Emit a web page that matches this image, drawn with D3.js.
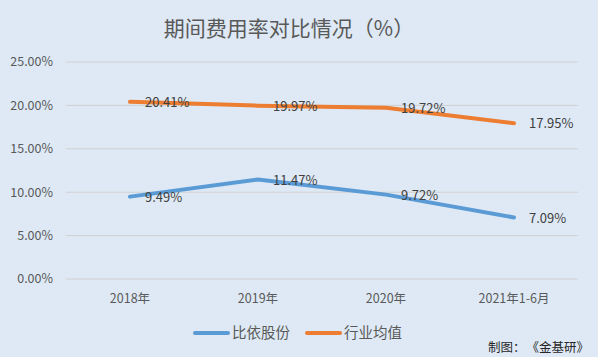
<!DOCTYPE html>
<html><head><meta charset="utf-8">
<script src="https://cdn.jsdelivr.net/npm/d3@7"></script>
<style>body{margin:0;background:#dee9f5;}svg{display:block;}</style>
</head><body><svg id="c" width="598" height="357"></svg>
<script>
const categories = ["2018年","2019年","2020年","2021年1-6月"];
const seriesNames = ["比依股份","行业均值"];
const biyi = [9.49, 11.47, 9.72, 7.09];
const industry = [20.41, 19.97, 19.72, 17.95];
const yTicks = [0,5,10,15,20,25];
const colors = ["#5b9bd5","#ed7d31"];
const title = "期间费用率对比情况（%）";
const noteParts = ["制图：", "《金基研》"];

const svg = d3.select("#c");
const W=598,H=357;
svg.append("rect").attr("width",W).attr("height",H).attr("fill","#dee9f5");
const font = "'Microsoft YaHei','Noto Sans CJK SC',sans-serif";
const x = d3.scaleBand().domain(categories).range([66,578]);
const y = d3.scaleLinear().domain([0,25]).range([279,62]);

svg.append("text").attr("x",289).attr("y",29).attr("dy","0.35em").attr("text-anchor","middle")
  .attr("font-family",font).attr("font-size",21).attr("fill","#595959").text(title);

const g = svg.append("g");
g.selectAll("line.grid").data(yTicks).join("line")
  .attr("x1",66).attr("x2",578).attr("y1",d=>y(d)).attr("y2",d=>y(d))
  .attr("stroke","#d0d0d0").attr("stroke-width",1);
g.selectAll("text.yl").data(yTicks).join("text")
  .attr("x",53).attr("y",d=>y(d)).attr("dy","0.35em").attr("text-anchor","end")
  .attr("font-family",font).attr("font-size",12.5).attr("fill","#595959")
  .text(d=>d.toFixed(2)+"%");
g.selectAll("text.xl").data(categories).join("text")
  .attr("x",d=>x(d)+x.bandwidth()/2).attr("y",299).attr("dy","0.35em").attr("text-anchor","middle")
  .attr("font-family",font).attr("font-size",12.5).attr("fill","#595959").text(d=>d);

const cx = d=>x(d)+x.bandwidth()/2;
const line = d3.line().x((d,i)=>cx(categories[i])).y(d=>y(d));
[biyi, industry].forEach((s,k)=>{
  svg.append("path").datum(s).attr("d",line).attr("fill","none")
    .attr("stroke",colors[k]).attr("stroke-width",4).attr("stroke-linecap","round").attr("stroke-linejoin","round");
});
[biyi, industry].forEach((s,k)=>{
  svg.selectAll(null).data(s).join("text")
    .attr("x",(d,i)=>cx(categories[i])+15).attr("y",d=>y(d)).attr("dy","0.4em")
    .attr("font-family",font).attr("font-size",13).attr("fill","#404040")
    .text(d=>d.toFixed(2)+"%");
});

const leg = svg.append("g");
const lx=[195,307];
seriesNames.forEach((n,k)=>{
  leg.append("line").attr("x1",lx[k]).attr("x2",lx[k]+33).attr("y1",333).attr("y2",333)
    .attr("stroke",colors[k]).attr("stroke-width",4).attr("stroke-linecap","round");
  leg.append("text").attr("x",lx[k]+37).attr("y",333).attr("dy","0.35em")
    .attr("font-family",font).attr("font-size",14.5).attr("fill","#595959").text(n);
});
svg.append("text").attr("x",488).attr("y",348).attr("dy","0.35em")
  .attr("font-family",font).attr("font-size",12.5).attr("fill","#262626").text(noteParts[0]);
svg.append("text").attr("x",589).attr("y",348).attr("dy","0.35em").attr("text-anchor","end")
  .attr("font-family",font).attr("font-size",12.5).attr("fill","#262626").text(noteParts[1]);
</script></body></html>
